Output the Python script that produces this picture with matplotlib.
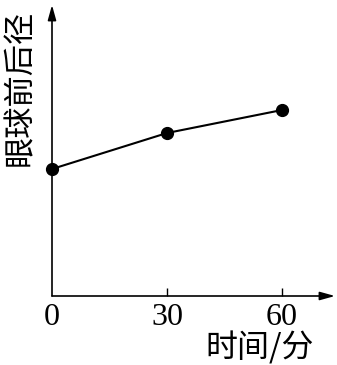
import matplotlib
matplotlib.use("Agg")
import matplotlib.pyplot as plt

time_min = [0, 30, 60]
eye_axial = [1.27, 1.63, 1.86]
xticks = [0, 30, 60]
xtick_labels = ["0", "30", "60"]
xlabel = "时间/分"
ylabel = "眼球前后径"

W, H = 337, 365
fig = plt.figure(figsize=(W / 100, H / 100), dpi=100)
x0, x1 = 52, 335
y0, y1 = 296, 5
ax = fig.add_axes([x0 / W, 1 - y0 / H, (x1 - x0) / W, (y0 - y1) / H])
ax.set_xlim(0, 73.8)
ax.set_ylim(0, 2.91)
for s in ax.spines.values():
    s.set_visible(False)

# axes with arrows
ax.annotate("", xy=(1, 0), xytext=(0, 0), xycoords="axes fraction",
            arrowprops=dict(arrowstyle="-|>,head_length=0.9,head_width=0.25",
                            color="black", lw=1.2, shrinkA=0, shrinkB=0))
ax.annotate("", xy=(0, 1), xytext=(0, 0), xycoords="axes fraction",
            arrowprops=dict(arrowstyle="-|>,head_length=0.9,head_width=0.25",
                            color="black", lw=1.2, shrinkA=0, shrinkB=0))

ax.plot(time_min, eye_axial, color="black", lw=1.5, marker="o",
        markersize=8.5, clip_on=False, zorder=5)

ax.set_xticks(xticks)
ax.set_xticklabels(xtick_labels, fontfamily="Liberation Serif", fontsize=23)
ax.tick_params(axis="x", direction="in", length=6, width=1.0, pad=5)
ax.xaxis.get_major_ticks()[0].tick1line.set_visible(False)
ax.set_yticks([])

fig.text(260 / W, 1 - 348 / H, xlabel, fontfamily=["Noto Sans CJK SC", "DejaVu Sans"],
         fontsize=23, ha="center", va="center")
fig.text(20 / W, 1 - 88 / H, ylabel, fontfamily=["Noto Sans CJK SC", "DejaVu Sans"],
         fontsize=22.5, ha="center", va="center", rotation=90)

fig.savefig("out.png", dpi=100, facecolor="white")
